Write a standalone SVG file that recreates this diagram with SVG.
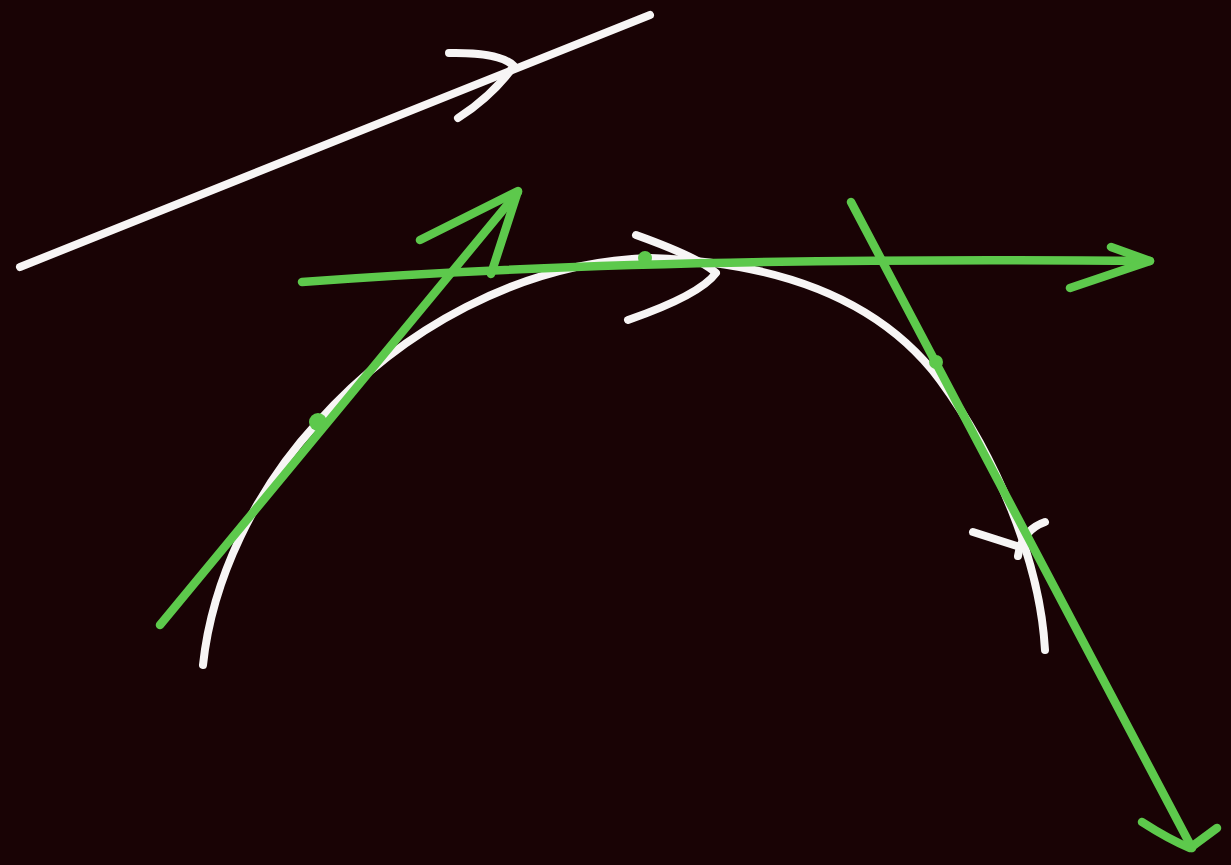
<svg xmlns="http://www.w3.org/2000/svg" width="1231" height="865" viewBox="0 0 1231 865">
<style>
.w{fill:none;stroke:#f7f5f5;stroke-width:8;stroke-linecap:round;stroke-linejoin:round}
.g{fill:none;stroke:#5dc94c;stroke-width:8.5;stroke-linecap:round;stroke-linejoin:round}
.d{fill:#5dc94c}
</style>
<rect width="1231" height="865" fill="#190305"/>
<g id="white-vector">
<path class="w" d="M20,267 L650,15"/>
<path class="w" d="M449,53 Q500,52 514,66 Q492,96 458,118"/>
</g>
<g id="white-curve">
<path class="w" d="M203,665 C212,580 255,490 318,422 C400,330 520,262 650,258 C780,262 880,300 940,380 C995,455 1040,560 1045,650"/>
<path class="w" d="M636,235 Q700,258 716,273 Q700,295 628,320"/>
<path class="w" d="M973,532 L1020,547"/>
<path class="w" d="M1018,556 Q1022,530 1045,522"/>
</g>
<g id="connectors">
<path class="g" d="M160,625 L518,192"/>
<path class="g" d="M420,240 L518,191 L491,274"/>
<circle class="d" cx="318" cy="422" r="9"/>
<path class="g" d="M302,282 Q640,256 1150,261"/>
<path class="g" d="M1111,247 L1150,261 L1070,288"/>
<circle class="d" cx="645" cy="258" r="7"/>
<path class="g" d="M851,202 L1192,848"/>
<path class="g" d="M1142,822 Q1170,840 1190,848 L1217,828"/>
<circle class="d" cx="936" cy="362" r="7"/>
</g>
</svg>
